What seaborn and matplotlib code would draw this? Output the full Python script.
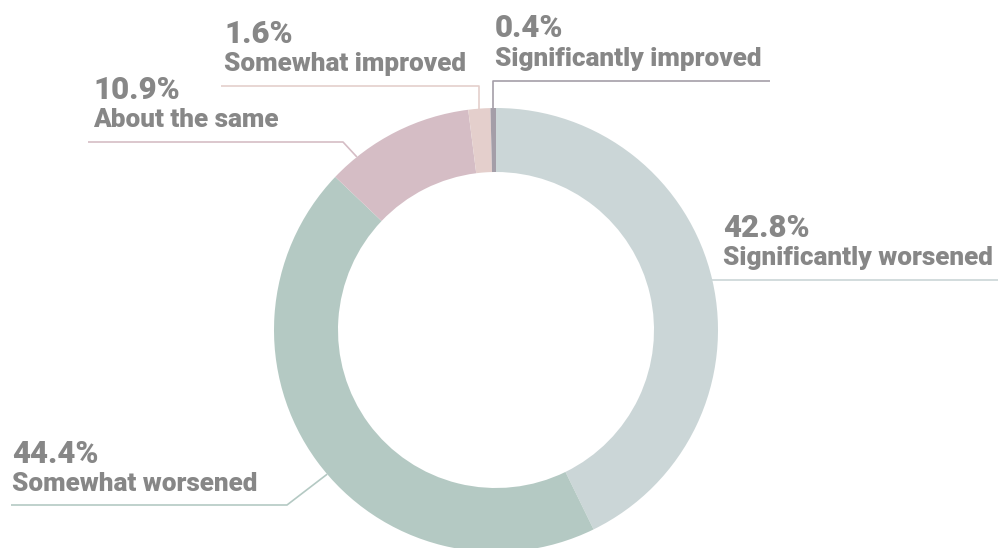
import numpy as np
import matplotlib.pyplot as plt
import seaborn as sns

labels = ["Significantly worsened", "Somewhat worsened", "About the same",
          "Somewhat improved", "Significantly improved"]
shares = [42.8, 44.4, 10.9, 1.6, 0.4]
colors = ["#cbd6d7", "#b4c9c3", "#d5bdc5", "#e4cfcc", "#a49ea8"]

sns.set_theme(style="white")
plt.rcParams['font.family'] = ['Roboto', 'DejaVu Sans']

W, H = 998, 548
cx, cy, R, ring = 496, H - 330, 222, 64
text_col = "#878787"

fig = plt.figure(figsize=(W / 100, H / 100), dpi=100)
ax = fig.add_axes([0, 0, 1, 1])
wedges, _ = ax.pie(shares, colors=colors, startangle=90, counterclock=False,
                   radius=R, center=(cx, cy),
                   wedgeprops=dict(width=ring, linewidth=0))
ax.set_xlim(0, W)
ax.set_ylim(0, H)
ax.set_aspect('auto')
ax.axis('off')

# label layout in pixels from top: text x, percent baseline, label baseline,
# leader line y, line end x, anchor angle (None -> wedge middle)
layout = [
    (723, 237, 265, None, W, None),
    (12, 463, 491, 505, 11, -139.5),
    (93, 99, 127, 142, 88, 128.8),
    (224, 43, 71, 86, 221, None),
    (495, 37, 66, 81, 770, None),
]

for w, lab, val, col, (tx, pb, lb, ly, ex, ang) in zip(wedges, labels, shares, colors, layout):
    a = (w.theta1 + w.theta2) / 2 if ang is None else ang
    axp = cx + R * np.cos(np.radians(a))
    ayp = cy + R * np.sin(np.radians(a))
    line_y = ayp if ly is None else H - ly
    if lab == "Somewhat worsened":
        elbow_x = 287
    elif lab == "About the same":
        elbow_x = 343
    else:
        elbow_x = axp
    ax.plot([axp, elbow_x, ex], [ayp, line_y, line_y], color=col, lw=1.2,
            solid_capstyle='butt', clip_on=False)
    ax.text(tx, H - pb, f"{val}%", fontsize=22.5, fontweight=900,
            color=text_col, va='baseline', ha='left')
    ax.text(tx, H - lb, lab, fontsize=18.8, fontweight=900,
            color=text_col, va='baseline', ha='left')

fig.savefig("out.png", dpi=100)
